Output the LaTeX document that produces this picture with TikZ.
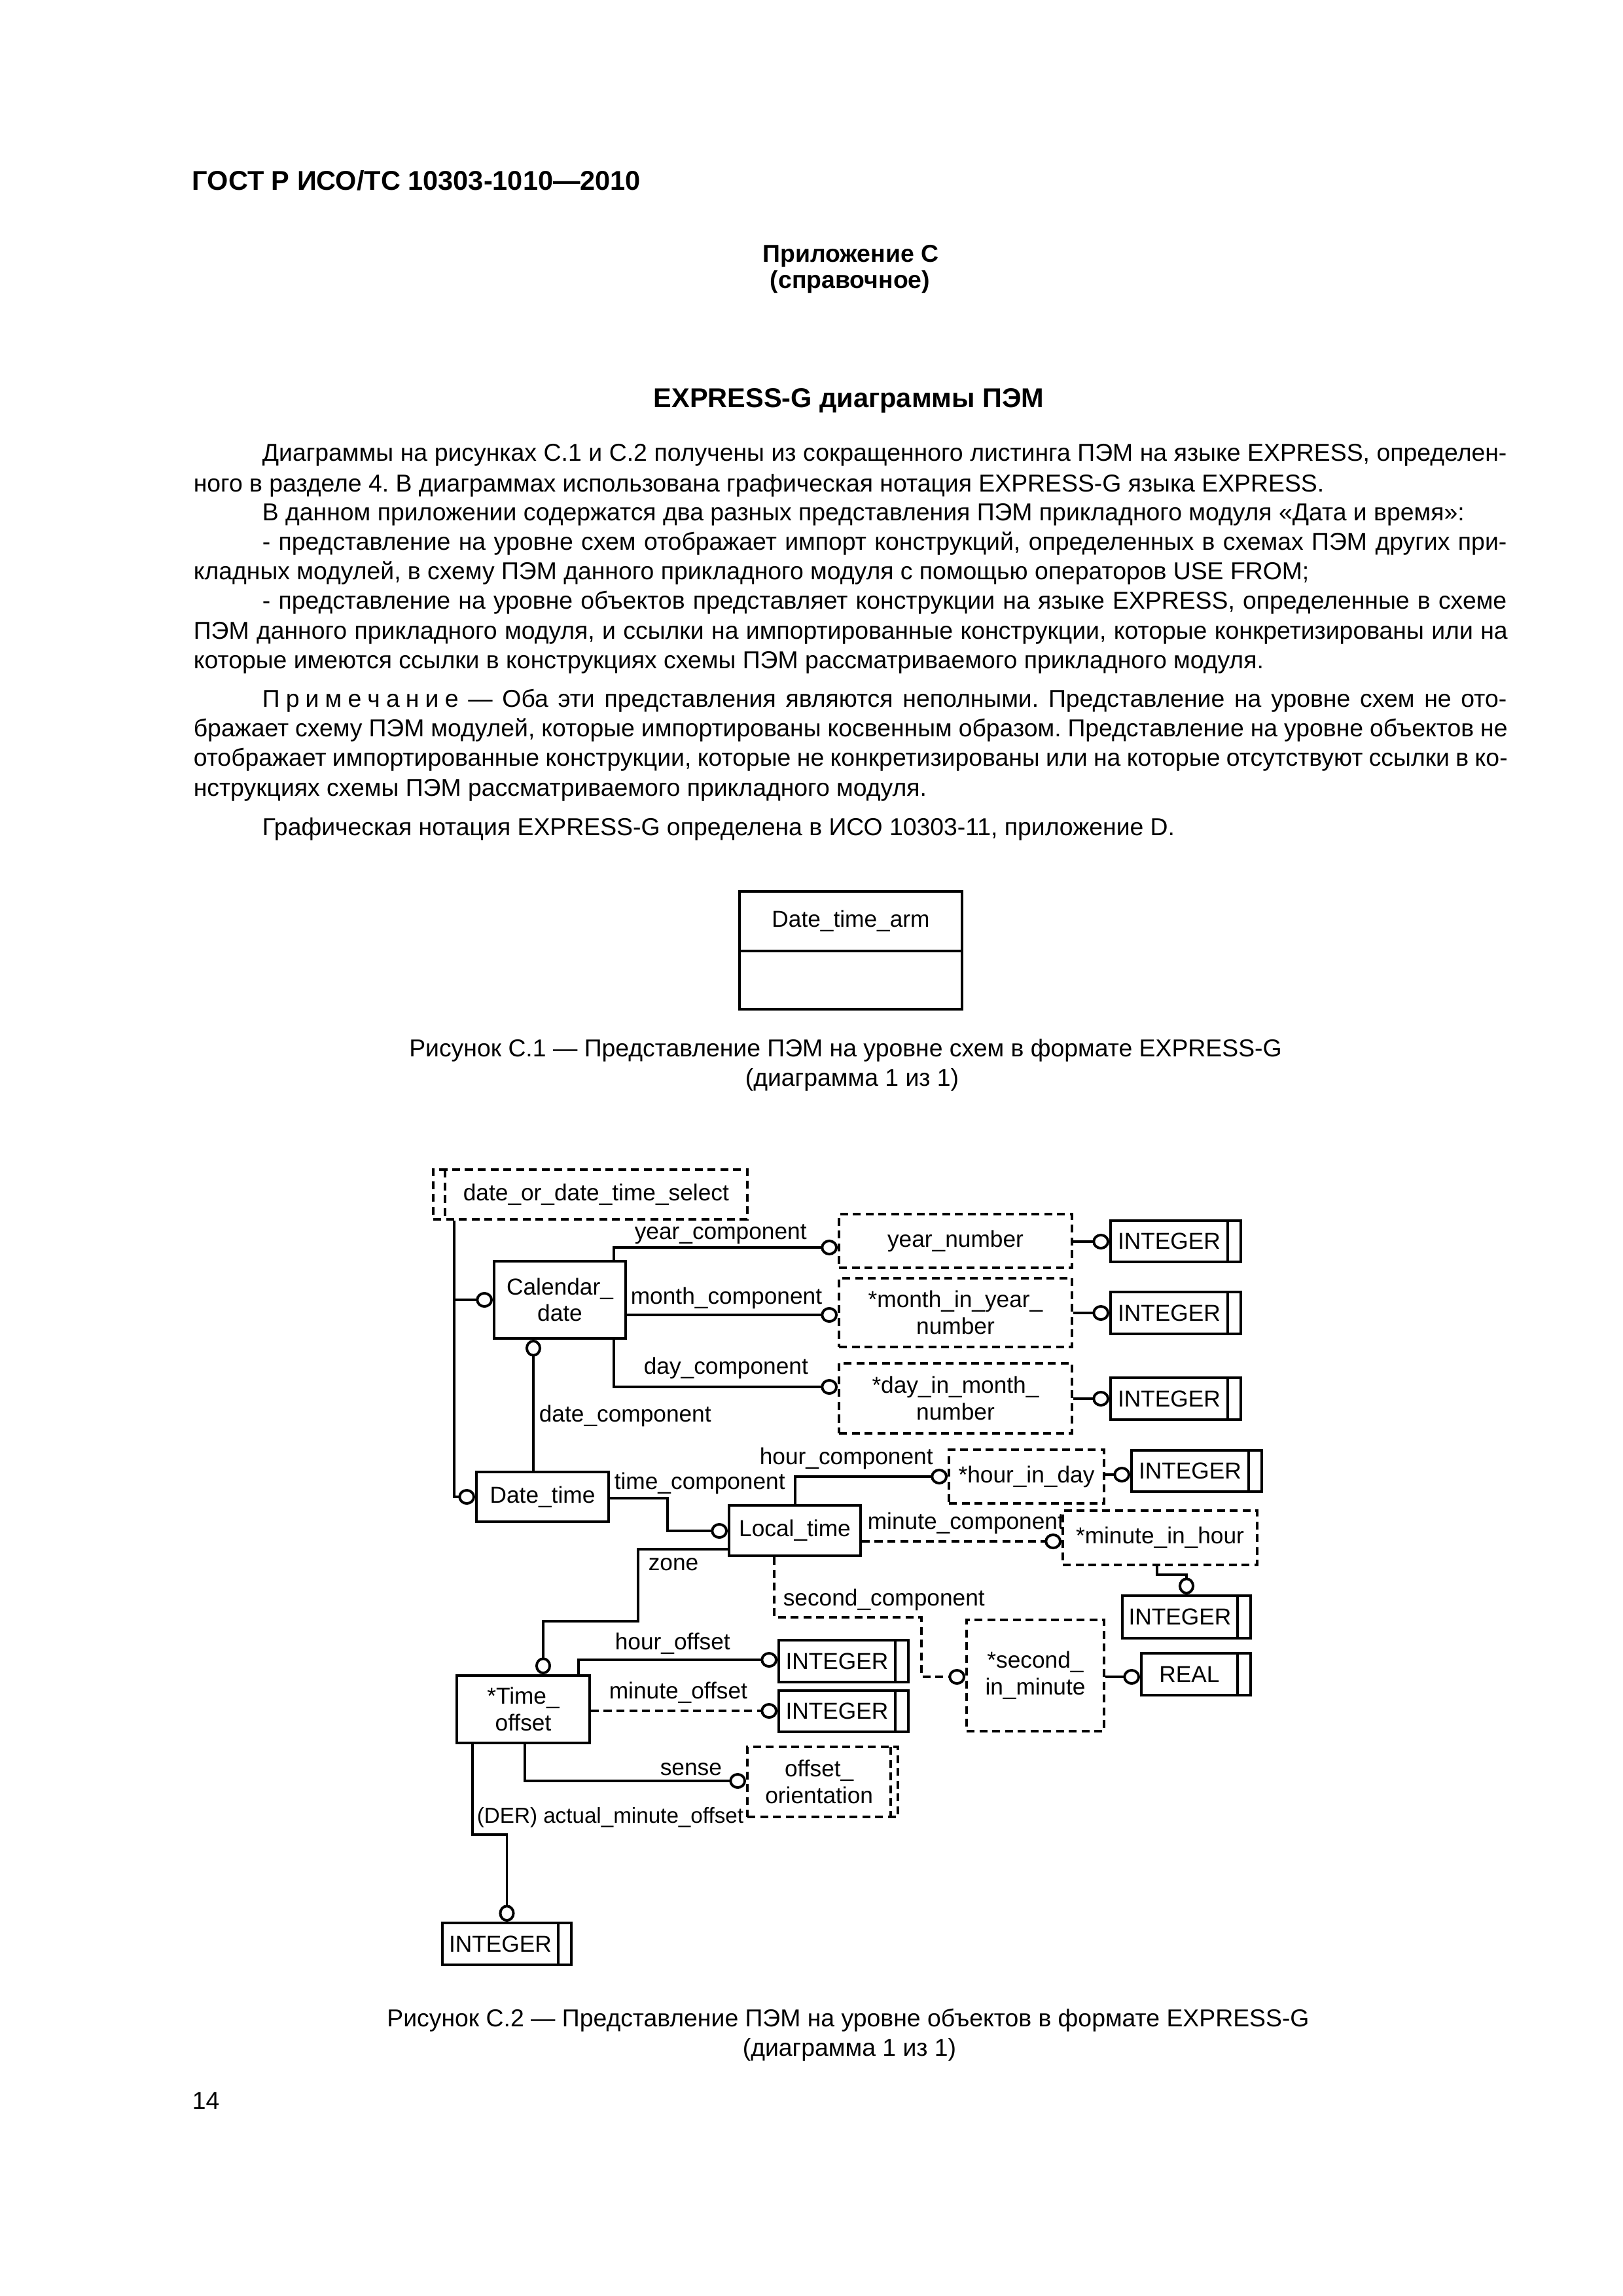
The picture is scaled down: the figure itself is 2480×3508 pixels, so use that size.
\documentclass[tikz,border=0pt]{standalone}
\usepackage{fontspec}
\setmainfont{Liberation Sans}
\usetikzlibrary{arrows.meta}
\newcommand{\pxu}{0.0846667mm}
\newcommand{\dfont}{\fontsize{8.5}{9.8}\selectfont}
\newcommand{\bodyfont}{\fontsize{9}{11}\selectfont\frenchspacing}
\newcommand{\lsp}{\kern2.2pt}
\newcommand{\jfull}[1]{\makebox[170mm][s]{#1}}
\newcommand{\jind}[1]{\makebox[161mm][s]{#1}}
\begin{document}
\begin{tikzpicture}[x=0.0846667mm, y=-0.0846667mm,
  ln/.style={line width=0.95pt},
  dsh/.style={dash pattern=on 2.9pt off 1.8pt},
  wh/.style 2 args={minimum width=#1*\pxu, minimum height=#2*\pxu},
  box/.style={draw, ln, inner sep=0pt, align=center, font=\dfont},
  ent/.style={box},
  dtyp/.style={box, dsh},
  simp/.style={box, path picture={\draw[ln] ([xshift=-20*\pxu]path picture bounding box.north east) -- ([xshift=-20*\pxu]path picture bounding box.south east);}},
  selL/.style={dtyp, path picture={\draw[ln,dsh] ([xshift=18*\pxu]path picture bounding box.north west) -- ([xshift=18*\pxu]path picture bounding box.south west);}},
  selR/.style={dtyp, path picture={\draw[ln,dsh] ([xshift=-11*\pxu]path picture bounding box.north east) -- ([xshift=-11*\pxu]path picture bounding box.south east);}},
  rel/.style={ln, -{Circle[open,length=6.2pt,width=5.8pt]}},
  lab/.style={font=\dfont, inner sep=0pt, text height=6.1pt, text depth=1.8pt, anchor=west},
  body/.style={font=\bodyfont, inner sep=0pt, anchor=base west},
  cbody/.style={font=\bodyfont, inner sep=0pt, anchor=base},
  bhead/.style={inner sep=0pt, anchor=base, font=\bfseries\fontsize{9}{11}\selectfont}
]
\fill[white] (0,0) rectangle (2480,3508);
\useasboundingbox (0,0) rectangle (2480,3508);

% ---------- header and text ----------
\node[inner sep=0pt, anchor=base west, font=\bfseries\fontsize{10}{12}\selectfont] (hdr) at (293,290) {ГОСТ Р ИСО/ТС 10303-1010—2010};
\node[bhead] (app) at (1300,400) {Приложение С};
\node[bhead] (spr) at (1299,440) {(справочное)};
\node[inner sep=0pt, anchor=base, font=\bfseries\fontsize{10}{12}\selectfont] (ttl) at (1297,622) {EXPRESS-G диаграммы ПЭМ};

\node[body] (b1) at (400,704) {\jind{Диаграммы на рисунках С.1 и С.2 получены из сокращенного листинга ПЭМ на языке EXPRESS, определен-}};
\node[body] (b2) at (295,751) {ного в разделе 4. В диаграммах использована графическая нотация EXPRESS-G языка EXPRESS.};
\node[body] (b3) at (400,795) {В данном приложении содержатся два разных представления ПЭМ прикладного модуля «Дата и время»:};
\node[body] (b4) at (400,840) {\jind{- представление на уровне схем отображает импорт конструкций, определенных в схемах ПЭМ других при-}};
\node[body] (b5) at (295,885) {кладных модулей, в схему ПЭМ данного прикладного модуля с помощью операторов USE FROM;};
\node[body] (b6) at (400,930) {\jind{- представление на уровне объектов представляет конструкции на языке EXPRESS, определенные в схеме}};
\node[body] (b7) at (295,976) {\jfull{ПЭМ данного прикладного модуля, и ссылки на импортированные конструкции, которые конкретизированы или на}};
\node[body] (b8) at (295,1021) {которые имеются ссылки в конструкциях схемы ПЭМ рассматриваемого прикладного модуля.};
\node[body] (n1) at (400,1080) {\jind{П\lsp р\lsp и\lsp м\lsp е\lsp ч\lsp а\lsp н\lsp и\lsp е — Оба эти представления являются неполными. Представление на уровне схем не ото-}};
\node[body] (n2) at (295,1125) {\jfull{бражает схему ПЭМ модулей, которые импортированы косвенным образом. Представление на уровне объектов не}};
\node[body] (n3) at (295,1170) {\jfull{отображает импортированные конструкции, которые не конкретизированы или на которые отсутствуют ссылки в ко-}};
\node[body] (n4) at (295,1216) {нструкциях схемы ПЭМ рассматриваемого прикладного модуля.};
\node[body] (g1) at (400,1276) {Графическая нотация EXPRESS-G определена в ИСО 10303-11, приложение D.};

% ---------- figure C.1 ----------
\node[draw, ln, inner sep=0pt, wh={340}{180}] (arm) at (1300,1452) {};
\draw[ln] (arm.west |- 0,1453) -- (arm.east |- 0,1453);
\node[font=\dfont, inner sep=0pt] (armt) at (1300,1407) {Date\_time\_arm};
\node[cbody] (cap1a) at (1292,1614) {Рисунок С.1 — Представление ПЭМ на уровне схем в формате EXPRESS-G};
\node[cbody] (cap1b) at (1302,1659) {(диаграмма 1 из 1)};

% ---------- figure C.2 ----------
\node[selL, wh={480}{76}] (sel) at (902,1825) {\hspace*{1.5mm}date\_or\_date\_time\_select};
\node[ent, wh={201}{118}] (cal) at (855.5,1986) {Calendar\_\\date};
\node[ent, wh={202}{76}] (dt) at (829,2287) {Date\_time};
\node[ent, wh={201}{77}] (lt) at (1214.5,2338.5) {Local\_time};
\node[ent, wh={203}{103}] (to) at (799.5,2611.5) {*Time\_\\offset};
\node[dtyp, wh={356}{82}] (yn) at (1460,1896) {year\_number};
\node[dtyp, wh={356}{105}] (my) at (1460,2005.5) {*month\_in\_year\_\\number};
\node[dtyp, wh={356}{107}] (dm) at (1460,2136.5) {*day\_in\_month\_\\number};
\node[simp, wh={199}{63}] (i1) at (1796.5,1896.5) {INTEGER\hspace*{1.7mm}};
\node[simp, wh={199}{64}] (i2) at (1796.5,2006) {INTEGER\hspace*{1.7mm}};
\node[simp, wh={199}{64}] (i3) at (1796.5,2137) {INTEGER\hspace*{1.7mm}};
\node[dtyp, wh={237}{82}] (hd) at (1568.5,2256) {*hour\_in\_day};
\node[simp, wh={199}{63}] (i4) at (1828.5,2247.5) {INTEGER\hspace*{1.7mm}};
\node[dtyp, wh={297}{83}] (mh) at (1772.5,2349.5) {*minute\_in\_hour};
\node[simp, wh={196}{65}] (i5) at (1813,2470.5) {INTEGER\hspace*{1.7mm}};
\node[dtyp, wh={210}{170}] (sm) at (1582,2560) {*second\_\\in\_minute};
\node[simp, wh={167}{64}] (re) at (1827.5,2558) {REAL\hspace*{1.7mm}};
\node[simp, wh={198}{64}] (i6) at (1289,2538) {INTEGER\hspace*{1.7mm}};
\node[simp, wh={198}{63}] (i7) at (1289,2614.5) {INTEGER\hspace*{1.7mm}};
\node[selR, wh={230}{107}] (oo) at (1257,2722.5) {offset\_\hspace*{0.9mm}\\orientation\hspace*{0.9mm}};
\node[simp, wh={197}{64}] (i8) at (774.5,2970) {INTEGER\hspace*{1.7mm}};

% connectors
\draw[rel] (sel.south -| 694,0) |- (cal.west);
\draw[rel] (sel.south -| 694,0) |- (dt.west);
\draw[rel] (cal.north -| 938,0) |- (yn.west |- 0,1906);
\draw[rel] (cal.east |- 0,2009) -- (my.west |- 0,2009);
\draw[rel] (cal.south -| 938,0) |- (dm.west |- 0,2119);
\draw[rel] (yn.east |- 0,1897) -- (i1.west |- 0,1897);
\draw[rel] (my.east |- 0,2006) -- (i2.west |- 0,2006);
\draw[rel] (dm.east |- 0,2137) -- (i3.west |- 0,2137);
\draw[rel] (dt.north -| 815,0) -- (cal.south -| 815,0);
\draw[rel] (dt.east |- 0,2289) -- (1020,2289) |- (lt.west |- 0,2339);
\draw[rel] (lt.north -| 1215,0) |- (hd.west |- 0,2256);
\draw[rel] (hd.east |- 0,2253) -- (i4.west |- 0,2253);
\draw[rel,dsh] (lt.east |- 0,2355) -- (mh.west |- 0,2355);
\draw[rel] (mh.south -| 1768,0) -- (1768,2406) -| (i5.north);
\draw[rel] (lt.west |- 0,2367) -- (975,2367) -- (975,2477) -| (to.north -| 830,0);
\draw[rel,dsh] (lt.south -| 1183,0) -- (1183,2471) -- (1408,2471) |- (sm.west |- 0,2562);
\draw[rel] (sm.east |- 0,2562) -- (re.west |- 0,2562);
\draw[rel] (to.north -| 884,0) |- (i6.west |- 0,2536);
\draw[rel,dsh] (to.east |- 0,2614) -- (i7.west |- 0,2614);
\draw[rel] (to.south -| 802,0) |- (oo.west |- 0,2721);
\draw[rel] (to.south -| 722,0) -- (722,2803) -| (i8.north);

% labels
\node[lab] (l1) at (969,1885) {year\_component};
\node[lab] (l2) at (963,1984) {month\_component};
\node[lab] (l3) at (983,2091) {day\_component};
\node[lab] (l4) at (823,2164) {date\_component};
\node[lab] (l5) at (938,2267) {time\_component};
\node[lab] (l6) at (1160,2229) {hour\_component};
\node[lab] (l7) at (1325,2328) {minute\_component};
\node[lab] (l8) at (990,2391) {zone};
\node[lab] (l9) at (1196,2445) {second\_component};
\node[lab] (l10) at (939,2512) {hour\_offset};
\node[lab] (l11) at (930,2587) {minute\_offset};
\node[lab] (l12) at (1008,2704) {sense};
\node[lab, font=\fontsize{8}{9.5}\selectfont] (l13) at (728,2777) {(DER) actual\_minute\_offset};

\node[cbody] (cap2a) at (1296,3096) {Рисунок С.2 — Представление ПЭМ на уровне объектов в формате EXPRESS-G};
\node[cbody] (cap2b) at (1298,3141) {(диаграмма 1 из 1)};
\node[body] (pg) at (293,3222) {14};
\end{tikzpicture}
\end{document}
